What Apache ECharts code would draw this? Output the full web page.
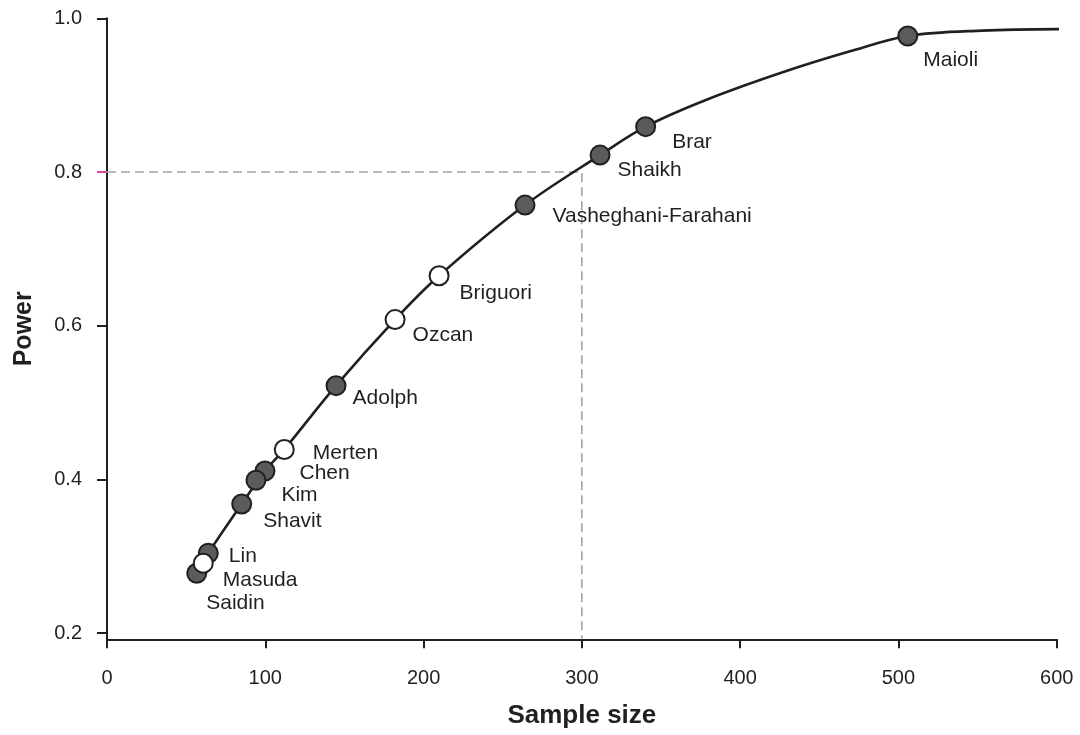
<!DOCTYPE html>
<html>
<head>
<meta charset="utf-8">
<script src="https://cdn.jsdelivr.net/npm/echarts@6/dist/echarts.min.js"></script>
<style>
html,body{margin:0;padding:0;background:#fff;}
#chart{width:1080px;height:735px;}
</style>
</head>
<body>
<div id="chart"></div>
<script>
// ---- data ----
const studyNames   = ['Maioli','Brar','Shaikh','Vasheghani-Farahani','Briguori','Ozcan','Adolph','Merten','Chen','Kim','Shavit','Lin','Saidin','Masuda'];
const studySamples = [505.9, 340.3, 311.5, 264.1, 209.8, 182.0, 144.7, 112.0, 99.8, 94.1, 85.1, 64.0, 56.7, 60.8];
const studyPowers  = [0.977, 0.859, 0.822, 0.757, 0.665, 0.608, 0.522, 0.439, 0.411, 0.399, 0.368, 0.304, 0.278, 0.291];
const studyOpen    = [false, false, false, false, true, true, false, true, false, false, false, false, false, true];

// points
const curveSamples = [56.7, 64.0, 85.1, 99.8, 112.0, 144.7, 182.0, 209.8, 264.1, 311.5, 340.3, 378.8, 427.3, 469.4, 505.9, 553, 604];
const curvePowers  = [0.278, 0.304, 0.368, 0.411, 0.439, 0.522, 0.608, 0.665, 0.757, 0.822, 0.859, 0.894, 0.930, 0.957, 0.977, 0.984, 0.986];

const refSample = 300;
const refPower = 0.8;

const yTicks = [0.2, 0.4, 0.6, 0.8, 1.0];
const yMin = 0.192, yMax = 1.0;

// ---- label placement (style only) ----
const labelOffsets = {
  'Maioli':[5,24], 'Brar':[16,16], 'Shaikh':[7,15], 'Vasheghani-Farahani':[17,11],
  'Briguori':[10,17], 'Ozcan':[7,16], 'Adolph':[6,13], 'Merten':[18,4], 'Chen':[24,2],
  'Kim':[15,15], 'Shavit':[11,17], 'Lin':[10,3], 'Masuda':[9,17], 'Saidin':[-1,30]
};

const ink = '#231f20';
const font = '"Liberation Sans", Arial, Helvetica, sans-serif';

function items(open) {
  const out = [];
  studyNames.forEach((n, i) => {
    if (studyOpen[i] !== open) return;
    out.push({ name: n, value: [studySamples[i], studyPowers[i]], label: { offset: labelOffsets[n] } });
  });
  return out;
}

const scatterBase = {
  type: 'scatter',
  symbol: 'circle',
  symbolSize: 19,
  z: 5,
  label: {
    show: true, position: 'right', distance: 0, formatter: '{b}',
    color: ink, fontSize: 21, fontFamily: font, verticalAlign: 'middle', align: 'left'
  },
  emphasis: { disabled: true }
};

const chart = echarts.init(document.getElementById('chart'));
chart.setOption({
  animation: false,
  backgroundColor: '#ffffff',
  textStyle: { fontFamily: font, color: ink },
  grid: { left: 107, right: 23.3, top: 18.3, bottom: 95.7, containLabel: false, outerBoundsMode: 'none' },
  xAxis: {
    type: 'value', min: 0, max: 600, interval: 100,
    name: 'Sample size', nameLocation: 'middle', nameGap: 64,
    nameTextStyle: { fontSize: 26, fontWeight: 'bold', color: ink, fontFamily: font },
    axisLine: { show: true, onZero: false, lineStyle: { color: ink, width: 2 } },
    axisTick: { show: true, inside: false, length: 9, lineStyle: { color: ink, width: 2 } },
    axisLabel: { show: true, margin: 29, fontSize: 20, color: ink, fontFamily: font },
    splitLine: { show: false }
  },
  yAxis: [{
    type: 'value', min: yMin, max: yMax,
    name: 'Power', nameLocation: 'middle', nameGap: 70,
    nameTextStyle: { fontSize: 25, fontWeight: 'bold', color: ink, fontFamily: font },
    axisLine: { show: true, onZero: false, lineStyle: { color: ink, width: 2 } },
    axisTick: { show: true, inside: false, length: 10, customValues: yTicks, lineStyle: { color: ink, width: 2 } },
    axisLabel: { show: true, margin: 25, fontSize: 20, color: ink, fontFamily: font, customValues: yTicks,
      formatter: v => Number(v).toFixed(1) },
    splitLine: { show: false }
  }, {
    type: 'value', min: yMin, max: yMax, position: 'left',
    axisLine: { show: false },
    axisTick: { show: true, inside: false, length: 10, customValues: [refPower], lineStyle: { color: '#d8479c', width: 2 } },
    axisLabel: { show: false },
    splitLine: { show: false }
  }],
  series: [
    {
      type: 'line',
      data: [[0, refPower], [refSample, refPower], [refSample, yMin]],
      symbol: 'none',
      lineStyle: { color: '#a3a3a3', width: 1.6, type: [9, 5] },
      z: 1, silent: true
    },
    {
      type: 'line',
      data: curveSamples.map((s, i) => [s, curvePowers[i]]),
      smooth: 0.35,
      clip: false,
      symbol: 'none',
      lineStyle: { color: ink, width: 2.6 },
      z: 2, silent: true
    },
    Object.assign({}, scatterBase, {
      data: items(false),
      itemStyle: { color: '#5b5b5b', borderColor: ink, borderWidth: 2, opacity: 1 }
    }),
    Object.assign({}, scatterBase, {
      data: items(true), z: 6,
      itemStyle: { color: '#ffffff', borderColor: ink, borderWidth: 2, opacity: 1 }
    })
  ]
});
</script>
</body>
</html>
